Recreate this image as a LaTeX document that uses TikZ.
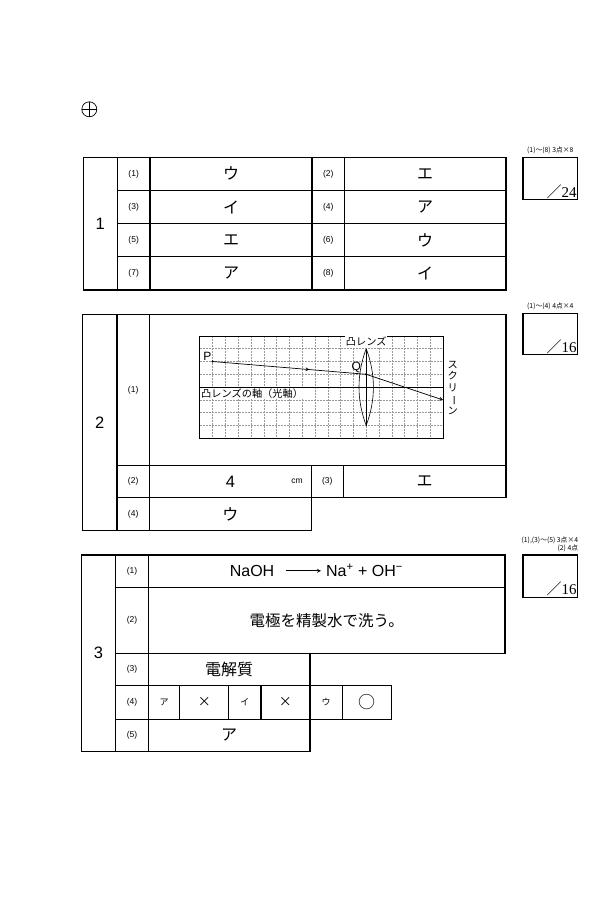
\documentclass[tikz,border=0pt]{standalone}
\usepackage{fontspec}
\usepackage{graphicx}
\setmainfont{Liberation Sans}
\newfontfamily\jpfont{Noto Sans CJK JP}
\newfontfamily\numfont{Liberation Serif}
\usetikzlibrary{positioning,decorations.markings}

\begin{document}
\begin{tikzpicture}[x=1pt, y=-1pt,
    cell/.style={draw, line width=1.2pt, anchor=north west, inner sep=0pt, minimum height=33.2},
    qno/.style={font=\fontsize{8.5}{9}\selectfont},
    ans/.style={font=\jpfont\fontsize{16}{18}\selectfont},
    secno/.style={font=\fontsize{16.5}{18}\selectfont},
    kana/.style={font=\jpfont\fontsize{9}{10}\selectfont},
    symb/.style={font=\jpfont\fontsize{13}{14}\selectfont},
    eq/.style={font=\fontsize{16}{18}\selectfont, inner sep=0pt},
    pts/.style={font=\jpfont\fontsize{6.8}{7.4}\selectfont, inner sep=0pt},
    scorebox/.style={draw, line width=1.2pt, anchor=north west, minimum width=54.8, minimum height=42.3, inner sep=0pt},
    total/.style={anchor=south east, inner sep=1.5pt, font=\fontsize{15}{16}\selectfont},
    figtext/.style={font=\jpfont\fontsize{10.2}{12}\selectfont, inner sep=0.6pt},
    gridline/.style={gray!80, densely dotted, line width=0.5pt},
    ray/.style={line width=0.7pt, >=stealth}
]
    \useasboundingbox (0,0) rectangle (600,900);

    % --- 位置合わせマーク ---
    \coordinate (regmark) at (89.3,109.3);
    \draw[line width=0.7pt] (regmark) circle (7.5pt);
    \draw[line width=0.7pt] ([xshift=-7.5pt]regmark) -- ([xshift=7.5pt]regmark);
    \draw[line width=0.7pt] ([yshift=-7.5pt]regmark) -- ([yshift=7.5pt]regmark);

    % --- 1 ---
    \node[cell, secno, minimum width=34.2, minimum height=132.8] (n1) at (82.5,156.6) {1};
    \foreach \i/\qa/\aa/\qb/\ab in {0/1/ウ/2/エ, 1/3/イ/4/ア, 2/5/エ/6/ウ, 3/7/ア/8/イ} {
        \node[cell, qno, minimum width=32.7] (q1-\qa) at (116.7,{156.6+33.2*\i}) {(\qa)};
        \node[cell, ans, minimum width=162] (a1-\qa) at (149.4,{156.6+33.2*\i}) {\aa};
        \node[cell, qno, minimum width=32.4] (q1-\qb) at (311.4,{156.6+33.2*\i}) {(\qb)};
        \node[cell, ans, minimum width=161.6] (a1-\qb) at (343.8,{156.6+33.2*\i}) {\ab};
    }
    \node[scorebox] (s1) at (522.3,156.6) {};
    \node[total] at (s1.south east) {{\jpfont ／}{\numfont 24}};
    \node[pts, above=2.5pt of s1] {(1)～(8)\ 3点×8};

    % --- 2 ---
    \node[cell, secno, minimum width=34.5, minimum height=216.3] (n2) at (81.8,313.7) {2};
    \node[cell, qno, minimum width=32.5, minimum height=151.1] (q2-1) at (116.3,313.7) {(1)};
    \node[cell, minimum width=356.6, minimum height=151.1] (a2-1) at (148.8,313.7) {};
    \node[cell, qno, minimum width=32.5, minimum height=32.4] (q2-2) at (116.3,464.8) {(2)};
    \node[cell, secno, minimum width=161.9, minimum height=32.4] (a2-2) at (148.8,464.8) {4};
    \node[qno, anchor=east, inner sep=0pt] (unit) at ([xshift=-9pt]a2-2.east) {cm};
    \node[cell, qno, minimum width=31.8, minimum height=32.4] (q2-3) at (310.7,464.8) {(3)};
    \node[cell, ans, minimum width=162.9, minimum height=32.4] (a2-3) at (342.5,464.8) {エ};
    \node[cell, qno, minimum width=32.5, minimum height=32.8] (q2-4) at (116.3,497.2) {(4)};
    \node[cell, ans, minimum width=161.9, minimum height=32.8] (a2-4) at (148.8,497.2) {ウ};

    % 方眼と凸レンズ
    \begin{scope}[shift={(199.8,335.9)}, x=12.8pt, y=-12.8pt]
        \foreach \c in {1,...,18} \draw[gridline] (\c,0) -- (\c,8);
        \foreach \r in {1,2,3,5,6,7} \draw[gridline] (0,\r) -- (19,\r);
        \draw[line width=0.7pt] (0,0) rectangle (19,8);
        \draw[line width=0.8pt] (0,4) -- (19,4);
        \draw[line width=0.6pt] (13,1) .. controls (13.75,3) and (13.75,5) .. (13,7)
            .. controls (12.25,5) and (12.25,3) .. (13,1);
        \draw[line width=0.6pt] (13,1) -- (13,7);
        \coordinate (P) at (1,2);
        \coordinate (Q) at (13,3);
        \coordinate (S) at (19,5);
        \draw[ray, postaction={decorate},
            decoration={markings, mark=at position 0.63 with {\arrow{stealth}}}] (P) -- (Q);
        \draw[ray, ->] (Q) -- (S);
        \fill (P) circle (1.3pt);
        \fill (Q) circle (1.3pt);
        \node[font=\fontsize{12}{13}\selectfont, inner sep=1pt, above left=0pt and 0pt of P] (plabel) {P};
        \node[font=\fontsize{12}{13}\selectfont, inner sep=1pt, above left=0pt and 4pt of Q] (qlabel) {Q};
        \node[figtext, fill=white] (lens) at (13,0.45) {凸レンズ};
        \node[figtext, fill=white, anchor=west] (axis) at (0.05,4.5) {凸レンズの軸（光軸）};
        \node[figtext, align=center, font=\jpfont\fontsize{10.2}{11.6}\selectfont] (screen) at (19.75,4.05)
            {ス\\ク\\リ\\\rotatebox[origin=c]{-90}{ー}\\ン};
    \end{scope}

    \node[scorebox, minimum height=41.2] (s2) at (522.3,313) {};
    \node[total] at (s2.south east) {{\jpfont ／}{\numfont 16}};
    \node[pts, above=2.5pt of s2] {(1)～(4)\ 4点×4};

    % --- 3 ---
    \node[cell, secno, minimum width=34.2, minimum height=196.4] (n3) at (80.8,554.4) {3};
    \node[cell, qno, minimum width=32.8, minimum height=32.5] (q3-1) at (115,554.4) {(1)};
    \node[cell, minimum width=356.6, minimum height=32.5] (a3-1) at (147.8,554.4) {};
    \node[cell, qno, minimum width=32.8, minimum height=65.9] (q3-2) at (115,586.9) {(2)};
    \node[cell, ans, font=\jpfont\fontsize{15.5}{17}\selectfont, minimum width=356.6, minimum height=65.9] (a3-2) at (147.8,586.9) {電極を精製水で洗う。};
    \node[cell, qno, minimum width=32.8, minimum height=32.1] (q3-3) at (115,652.8) {(3)};
    \node[cell, ans, minimum width=161.6, minimum height=32.1] (a3-3) at (147.8,652.8) {電解質};
    \node[cell, qno, minimum width=32.8, minimum height=33.8] (q3-4) at (115,684.9) {(4)};
    \foreach \x/\xs/\t/\s [count=\k] in {147.8/179.2/ア/×, 228.2/260.3/イ/×, 309.4/341.5/ウ/\fontsize{17}{18}\selectfont ○} {
        \node[cell, kana, minimum width={\xs-\x}, minimum height=33.8] (k3-\k) at (\x,684.9) {\t};
        \node[cell, symb, minimum width=49, minimum height=33.8] (m3-\k) at (\xs,684.9) {\s};
    }
    \node[cell, qno, minimum width=32.8, minimum height=32.1] (q3-5) at (115,718.7) {(5)};
    \node[cell, ans, minimum width=161.6, minimum height=32.1] (a3-5) at (147.8,718.7) {ア};

    % 反応式
    \node[eq, anchor=base east] (naoh) at (274.5,576.3) {NaOH};
    \node[eq, anchor=base west] (ions) at (325.9,576.3) {Na\textsuperscript{+} + OH\textsuperscript{−}};
    \draw[ray, ->, shorten <=11pt, shorten >=5pt] (naoh.east) -- (naoh.east -| ions.west);

    \node[scorebox] (s3) at (522.3,554.4) {};
    \node[total] at (s3.south east) {{\jpfont ／}{\numfont 16}};
    \node[pts, align=right, above left=2.5pt and 0pt of s3.north east] {(1),(3)～(5)\ 3点×4\\(2)\ 4点};

\end{tikzpicture}
\end{document}
